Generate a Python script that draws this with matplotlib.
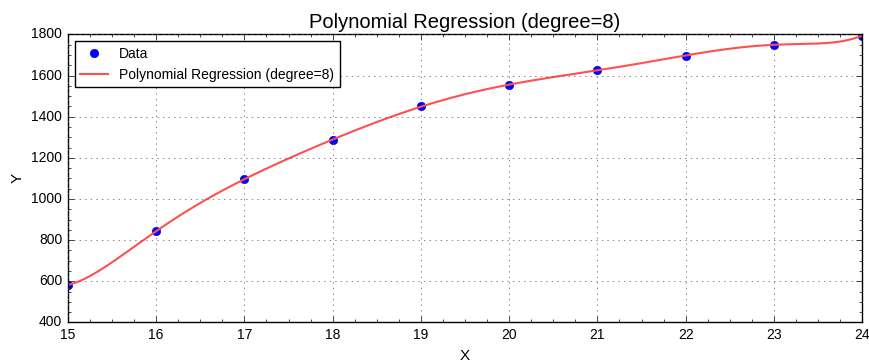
import numpy as np
import matplotlib
matplotlib.use("Agg")
import matplotlib.pyplot as plt
from matplotlib.ticker import AutoMinorLocator

x = [15, 16, 17, 18, 19, 20, 21, 22, 23, 24]
y = [582, 843, 1097, 1287, 1452, 1553, 1628, 1697, 1750, 1795]
degree = 8

plt.style.use("classic")
plt.rcParams["font.family"] = ["Liberation Sans", "DejaVu Sans"]

coef = np.polyfit(x, y, degree)
xs = np.linspace(min(x), max(x), 300)
ys = np.polyval(coef, xs)

fig, ax = plt.subplots(figsize=(8.7, 3.63), dpi=100)
fig.subplots_adjust(left=0.078, right=0.991, top=0.905, bottom=0.112)

ax.plot(x, y, "o", color="blue", markeredgecolor="blue", markersize=6, label="Data")
ax.plot(xs, ys, "-", color="#ff5050", linewidth=1.5,
        label="Polynomial Regression (degree=%d)" % degree)

ax.set_xlim(15, 24)
ax.set_ylim(400, 1800)
ax.set_xlabel("X", fontsize=11)
ax.set_ylabel("Y", fontsize=11)
ax.set_title("Polynomial Regression (degree=%d)" % degree, fontsize=14.5)
ax.tick_params(labelsize=10)
ax.xaxis.set_minor_locator(AutoMinorLocator(4))
ax.yaxis.set_minor_locator(AutoMinorLocator(4))
ax.grid(True, which="major", linestyle=":", color="#555555")
ax.legend(loc="upper left", fontsize=10, numpoints=1, frameon=True)

fig.savefig("out.png", dpi=100)
